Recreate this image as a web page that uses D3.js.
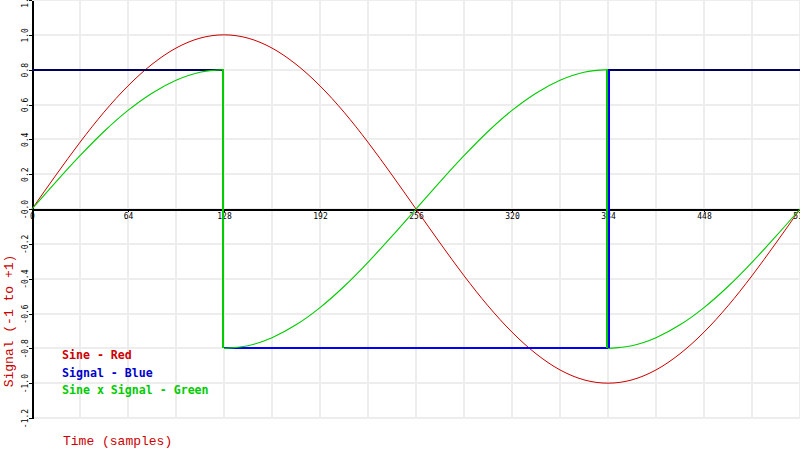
<!DOCTYPE html>
<html>
<head>
<meta charset="utf-8">
<title>Sine x Signal</title>
<script src="https://cdn.jsdelivr.net/npm/d3@7"></script>
<style>
	body { margin: 0; background: #fff; }
</style>
</head>
<body>
<div id="chart"></div>
<script>
// sample positions (every 16 samples)
var times = [0,16,32,48,64,80,96,112,128,144,160,176,192,208,224,240,256,
	272,288,304,320,336,352,368,384,400,416,432,448,464,480,496,512];

// red: sine
var sineValues = [0,0.195,0.383,0.556,0.707,0.831,0.924,0.981,1.0,0.981,0.924,0.831,0.707,0.556,0.383,0.195,0,
	-0.195,-0.383,-0.556,-0.707,-0.831,-0.924,-0.981,-1.0,-0.981,-0.924,-0.831,-0.707,-0.556,-0.383,-0.195,0];

// blue: square signal
var signalTimes = [0,128,128,384,384,512];
var signalValues = [0.8,0.8,-0.8,-0.8,0.8,0.8];

// green: sine x signal
var productTimes = [0,16,32,48,64,80,96,112,128,
	128,144,160,176,192,208,224,240,256,272,288,304,320,336,352,368,384,
	384,400,416,432,448,464,480,496,512];
var productValues = [0,0.156,0.306,0.445,0.566,0.665,0.739,0.785,0.8,
	-0.8,-0.785,-0.739,-0.665,-0.566,-0.445,-0.306,-0.156,0,0.156,0.306,0.445,0.566,0.665,0.739,0.785,0.8,
	-0.8,-0.785,-0.739,-0.665,-0.566,-0.445,-0.306,-0.156,0];

var xTicks = [0,64,128,192,256,320,384,448,512];
var yTicks = [-1.2,-1.0,-0.8,-0.6,-0.4,-0.2,0,0.2,0.4,0.6,0.8,1.0,1.2];
var yTickLabels = ["-1.2","-1.0","-0.8","-0.6","-0.4","-0.2","-0.0","0.2","0.4","0.6","0.8","1.0","1.2"];
var xGrid = [32,64,96,128,160,192,224,256,288,320,352,384,416,448,480,512];

var legendLabels = ["Sine - Red", "Signal - Blue", "Sine x Signal - Green"];
var legendColors = ["#cc0000", "#0000cc", "#00cc00"];

var width = 800, height = 450;

var svg = d3.select("#chart").append("svg")
	.attr("width", width)
	.attr("height", height)
	.style("display", "block");

var x = d3.scaleLinear().domain([0, 512]).range([32, 800]);
var y = d3.scaleLinear().domain([-1.2, 1.2]).range([418, 0]);

// grid
var grid = svg.append("g")
	.attr("stroke", "#ededed")
	.attr("stroke-width", 2)
	.attr("shape-rendering", "crispEdges");

grid.selectAll("line.v")
	.data(xGrid)
	.enter().append("line")
	.attr("class", "v")
	.attr("x1", function(d) { return x(d); })
	.attr("x2", function(d) { return x(d); })
	.attr("y1", y(1.2))
	.attr("y2", y(-1.2));

grid.selectAll("line.h")
	.data(yTicks)
	.enter().append("line")
	.attr("class", "h")
	.attr("x1", x(0))
	.attr("x2", x(512))
	.attr("y1", function(d) { return Math.round(y(d)); })
	.attr("y2", function(d) { return Math.round(y(d)); });

// x axis at zero
var xAxis = svg.append("g")
	.attr("transform", "translate(0," + Math.round(y(0)) + ")")
	.attr("shape-rendering", "crispEdges")
	.call(d3.axisBottom(x).tickValues(xTicks).tickSize(3).tickSizeOuter(0).tickPadding(1).tickFormat(d3.format("d")));
xAxis.select(".domain").attr("stroke", "#000").attr("stroke-width", 2);
xAxis.selectAll(".tick line").attr("stroke", "#000");
xAxis.selectAll("text")
	.attr("fill", "#000")
	.style("font-family", "DejaVu Sans Mono")
	.style("font-size", "8px");

// y axis
var yAxis = svg.append("g")
	.attr("transform", "translate(" + x(0) + ",0)")
	.attr("shape-rendering", "crispEdges")
	.call(d3.axisLeft(y).tickValues(yTicks).tickSize(3).tickSizeOuter(0)
		.tickFormat(function(d, i) { return yTickLabels[i]; }));
yAxis.select(".domain").attr("stroke", "#000").attr("stroke-width", 2);
yAxis.selectAll(".tick line").attr("stroke", "#000");
yAxis.selectAll("text")
	.attr("x", 0)
	.attr("y", -4)
	.attr("dy", 0)
	.attr("text-anchor", "middle")
	.attr("transform", "rotate(-90)")
	.attr("fill", "#000")
	.style("font-family", "DejaVu Sans Mono")
	.style("font-size", "8px");

// split a series into continuous pieces plus the vertical jumps between them
function split(ts, vs) {
	var pieces = [[]], jumps = [];
	for (var i = 0; i < ts.length; i++) {
		if (i > 0 && ts[i] === ts[i - 1]) {
			jumps.push([{t: ts[i - 1], v: vs[i - 1]}, {t: ts[i], v: vs[i]}]);
			pieces.push([]);
		}
		pieces[pieces.length - 1].push({t: ts[i], v: vs[i]});
	}
	return {pieces: pieces, jumps: jumps};
}

var curved = d3.line()
	.x(function(d) { return x(d.t); })
	.y(function(d) { return y(d.v); })
	.curve(d3.curveMonotoneX);
var straight = d3.line()
	.x(function(d) { return x(d.t); })
	.y(function(d) { return y(d.v); });

var lines = svg.append("g").attr("fill", "none");

// red sine
lines.append("path")
	.attr("d", curved(times.map(function(t, i) { return {t: t, v: sineValues[i]}; })))
	.attr("stroke", "#cc0000")
	.attr("stroke-width", 1);

// blue signal
var sig = split(signalTimes, signalValues);
sig.pieces.forEach(function(p) {
	lines.append("path")
		.attr("d", straight(p))
		.attr("stroke", p[0].v > 0 ? "#000060" : "#0000ff")
		.attr("stroke-width", 2)
		.attr("shape-rendering", "crispEdges");
});

// green product
var prod = split(productTimes, productValues);
prod.pieces.forEach(function(p) {
	lines.append("path")
		.attr("d", curved(p))
		.attr("stroke", "#00cc00")
		.attr("stroke-width", 1.1);
});
prod.jumps.forEach(function(j) {
	lines.append("path")
		.attr("d", straight(j))
		.attr("stroke", "#00cc00")
		.attr("stroke-width", 2)
		.attr("shape-rendering", "crispEdges")
		.attr("transform", "translate(-1,0)");
});
sig.jumps.forEach(function(j, i) {
	if (i === 0) return; // hidden under green at 128
	lines.append("path")
		.attr("d", straight(j))
		.attr("stroke", "#0000ff")
		.attr("stroke-width", 2)
		.attr("shape-rendering", "crispEdges")
		.attr("transform", "translate(1,0)");
});

// legend
svg.append("g").selectAll("text")
	.data(legendLabels)
	.enter().append("text")
	.attr("x", 62)
	.attr("y", function(d, i) { return 359 + i * 17.5; })
	.attr("fill", function(d, i) { return legendColors[i]; })
	.style("font-family", "DejaVu Sans Mono")
	.style("font-weight", "bold")
	.style("font-size", "11.6px")
	.text(function(d) { return d; });

// axis titles
svg.append("text")
	.attr("x", 63)
	.attr("y", 445)
	.attr("fill", "#cc0000")
	.style("font-family", "Liberation Mono")
	.style("font-size", "13px")
	.text("Time (samples)");

svg.append("text")
	.attr("transform", "translate(13,321) rotate(-90)")
	.attr("text-anchor", "middle")
	.attr("fill", "#cc0000")
	.style("font-family", "Liberation Mono")
	.style("font-size", "13px")
	.text("Signal (-1 to +1)");
</script>
</body>
</html>
